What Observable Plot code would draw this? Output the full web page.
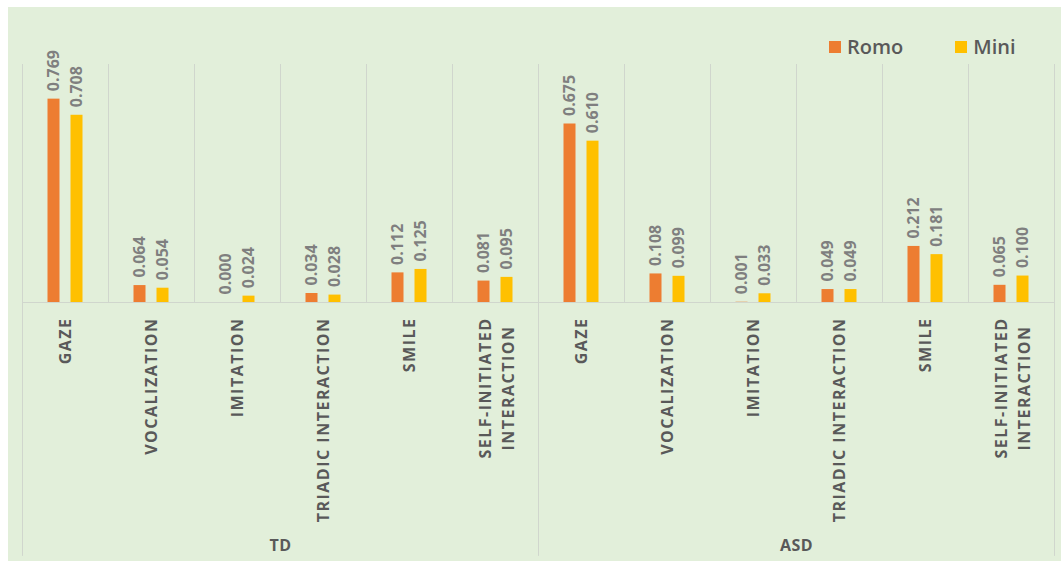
<!DOCTYPE html>
<html>
<head>
<meta charset="utf-8">
<script src="https://cdn.jsdelivr.net/npm/d3@7"></script>
<script src="https://cdn.jsdelivr.net/npm/@observablehq/plot@0.6"></script>
<style>
  html, body { margin: 0; padding: 0; background: #ffffff; }
  #wrap { position: relative; width: 1061px; height: 562px; overflow: hidden; }
  #bg { position: absolute; left: 8px; top: 7px; right: 0; bottom: 1px; background: #e2efda; }
  #chart { position: absolute; left: 0; top: 0; }
  #legend { position: absolute; top: 33px; left: 829px; display: flex; align-items: center;
            font-family: "Open Sans", sans-serif; font-weight: 600; font-size: 20px; color: #595959; }
  .item { display: flex; align-items: center; }
  .sw { width: 12px; height: 12px; margin-right: 6px; }
  .clab text { letter-spacing: 1.5px; }
  .glab text { letter-spacing: 0.5px; }
</style>
</head>
<body>
<div id="wrap">
  <div id="bg"></div>
  <div id="chart"></div>
  <div id="legend"></div>
</div>
<script>
const groups = ["TD", "ASD"];
const behaviors = ["GAZE", "VOCALIZATION", "IMITATION", "TRIADIC INTERACTION", "SMILE", "SELF-INITIATED\nINTERACTION"];
const series = ["Romo", "Mini"];
const colors = ["#ed7d31", "#ffc000"];
const romoTD  = [0.769, 0.064, 0.000, 0.034, 0.112, 0.081];
const miniTD  = [0.708, 0.054, 0.024, 0.028, 0.125, 0.095];
const romoASD = [0.675, 0.108, 0.001, 0.049, 0.212, 0.065];
const miniASD = [0.610, 0.099, 0.033, 0.049, 0.181, 0.100];

const values = {TD: {Romo: romoTD, Mini: miniTD}, ASD: {Romo: romoASD, Mini: miniASD}};
const keys = [];
const cats = [];
const rows = [];
for (const g of groups) {
  behaviors.forEach((b, i) => {
    const key = g + "|" + b;
    keys.push(key);
    cats.push({key, group: g, behavior: b});
    for (const s of series) rows.push({key, group: g, behavior: b, series: s, value: values[g][s][i]});
  });
}
const groupFirst = groups.map(g => keys.find(k => k.startsWith(g + "|")));
const groupMid = groups.map(g => keys.filter(k => k.startsWith(g + "|"))[2]);
const lastKey = keys[keys.length - 1];

const W = 1061, H = 562, mL = 22, mR = 7, mT = 64, mB = 260;
const bw = (W - mL - mR) / keys.length;
const barW = 12, gap = 11;
const romoRows = rows.filter(d => d.series === "Romo");
const miniRows = rows.filter(d => d.series === "Mini");
const fmt = d3.format(".3f");
const grid = "#d0d6cd";

// measure the longest line of multi-line category labels so lines can be centred on each other
const catFont = 16, catSpacing = 1.5;
const ctx = document.createElement("canvas").getContext("2d");
ctx.font = `bold ${catFont}px "Open Sans"`;
const lineLen = s => ctx.measureText(s).width + s.length * catSpacing;
const singleCats = cats.filter(d => !d.behavior.includes("\n"));
const multiCats = cats.filter(d => d.behavior.includes("\n"));
const multiLen = Math.max(...multiCats.flatMap(d => d.behavior.split("\n").map(lineLen)));

const valueText = (data, dx) => Plot.text(data, {
  x: "key", y: "value", text: d => fmt(d.value), rotate: -90, textAnchor: "start",
  dx, dy: -8, fill: "#7f7f7f", fontSize: 16, fontWeight: "bold", fontFamily: "Open Sans",
  className: "vlab"
});

const chart = Plot.plot({
  width: W, height: H,
  marginLeft: mL, marginRight: mR, marginTop: mT, marginBottom: mB,
  style: {background: "transparent", fontFamily: "Open Sans"},
  x: {type: "band", domain: keys, padding: 0, axis: null},
  y: {domain: [0, 0.9], axis: null},
  marks: [
    Plot.ruleX(keys, {x: d => d, dx: -bw / 2, y1: 0, y2: 0.9, stroke: grid}),
    Plot.ruleX([lastKey], {x: d => d, dx: bw / 2, y1: 0, y2: 0.9, stroke: grid}),
    Plot.ruleX(groupFirst, {x: d => d, dx: -bw / 2, y1: 0, y2: -0.96, stroke: grid}),
    Plot.ruleX([lastKey], {x: d => d, dx: bw / 2, y1: 0, y2: -0.96, stroke: grid}),
    Plot.ruleY([0], {stroke: grid}),
    Plot.barY(romoRows, {x: "key", y: "value", fill: colors[0],
      insetLeft: bw / 2 - gap / 2 - barW, insetRight: bw / 2 + gap / 2}),
    Plot.barY(miniRows, {x: "key", y: "value", fill: colors[1],
      insetLeft: bw / 2 + gap / 2, insetRight: bw / 2 - gap / 2 - barW}),
    valueText(romoRows, -(gap / 2 + barW / 2)),
    valueText(miniRows, gap / 2 + barW / 2),
    Plot.text(singleCats, {x: "key", y: () => 0, text: "behavior", rotate: -90, textAnchor: "end",
      dy: 15, fill: "#595959", fontSize: catFont, fontWeight: "bold", fontFamily: "Open Sans",
      className: "clab"}),
    Plot.text(multiCats, {x: "key", y: () => 0, text: "behavior", rotate: -90, textAnchor: "middle",
      dy: 15 + multiLen / 2, fill: "#595959", fontSize: catFont, fontWeight: "bold", fontFamily: "Open Sans",
      lineHeight: 1.4, className: "clab"}),
    Plot.text(groups, {x: (d, i) => groupMid[i], y: () => 0, text: d => d, dx: bw / 2, dy: 243,
      fill: "#595959", fontSize: 16, fontWeight: "bold", fontFamily: "Open Sans", className: "glab"})
  ]
});
document.getElementById("chart").appendChild(chart);

const legend = document.getElementById("legend");
series.forEach((s, i) => {
  const it = document.createElement("div");
  it.className = "item";
  if (i > 0) it.style.marginLeft = "52px";
  const sw = document.createElement("span");
  sw.className = "sw";
  sw.style.background = colors[i];
  const t = document.createElement("span");
  t.textContent = s;
  it.appendChild(sw); it.appendChild(t);
  legend.appendChild(it);
});
</script>
</body>
</html>
